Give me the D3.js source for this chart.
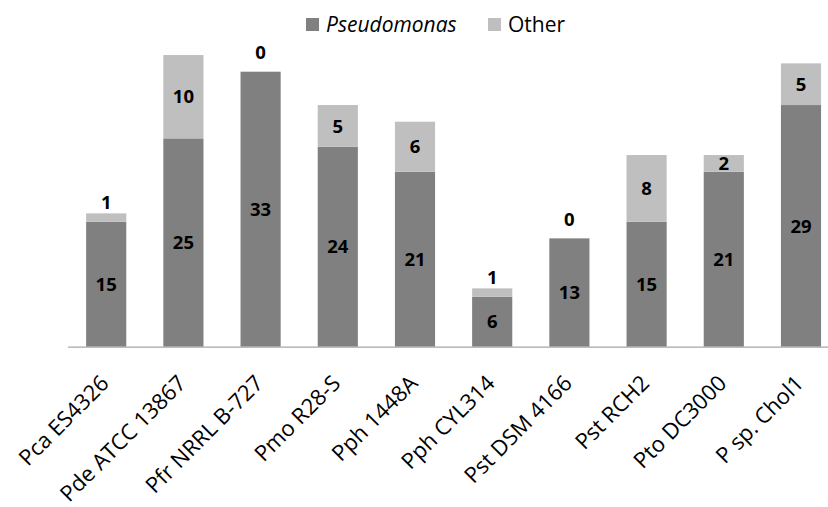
<!DOCTYPE html>
<html>
<head>
<meta charset="utf-8">
<script src="https://cdn.jsdelivr.net/npm/d3@7"></script>
<style>
  body { margin: 0; background: #fff; }
  svg { display: block; font-family: "Open Sans", Lato, sans-serif; }
</style>
</head>
<body>
<div id="chart"></div>
<script>
// 数据
const strains = ['Pca ES4326', 'Pde ATCC 13867', 'Pfr NRRL B-727', 'Pmo R28-S', 'Pph 1448A',
                 'Pph CYL314', 'Pst DSM 4166', 'Pst RCH2', 'Pto DC3000', 'P sp. Chol1'];
const pseudomonas = [15, 25, 33, 24, 21, 6, 13, 15, 21, 29];
const other = [1, 10, 0, 5, 6, 1, 0, 8, 2, 5];
const seriesNames = ['Pseudomonas', 'Other'];
const colors = ['#808080', '#bfbfbf'];

const width = 828, height = 507;

const svg = d3.select('#chart').append('svg')
    .attr('width', width)
    .attr('height', height);

// 比例尺
const xScale = d3.scaleBand()
    .domain(strains)
    .range([67.6, 839.6])
    .paddingInner(0.48)
    .paddingOuter(0.24);

const yScale = d3.scaleLinear()
    .domain([0, 33])
    .range([346.7, 71.7]);

const rows = strains.map((s, i) => ({ strain: s, Pseudomonas: pseudomonas[i], Other: other[i] }));
const stacked = d3.stack().keys(seriesNames)(rows);

// 柱子
const layers = svg.selectAll('.layer')
    .data(stacked)
    .enter().append('g')
    .attr('class', 'layer')
    .attr('fill', (d, i) => colors[i]);

layers.selectAll('rect')
    .data(d => d)
    .enter().append('rect')
    .attr('x', d => xScale(d.data.strain))
    .attr('width', xScale.bandwidth())
    .attr('y', d => yScale(d[1]))
    .attr('height', d => yScale(d[0]) - yScale(d[1]));

// 数据标签（很小的 Other 值放在柱顶上方）
layers.selectAll('text')
    .data(d => d.map(v => Object.assign({ key: d.key }, v)))
    .enter().append('text')
    .attr('x', d => xScale(d.data.strain) + xScale.bandwidth() / 2)
    .attr('y', d => {
        const val = d[1] - d[0];
        if (d.key === 'Other' && val <= 1) return yScale(d[1]) - (val === 0 ? 19 : 11);
        return (yScale(d[0]) + yScale(d[1])) / 2;
    })
    .attr('dy', '0.36em')
    .attr('text-anchor', 'middle')
    .style('font-size', '18.5px')
    .style('font-weight', 'bold')
    .style('fill', '#000')
    .text(d => d[1] - d[0]);

// x 轴
const xAxis = svg.append('g')
    .attr('transform', 'translate(0,346.7)')
    .call(d3.axisBottom(xScale).tickSize(0).tickSizeOuter(0));

xAxis.select('.domain')
    .attr('stroke', '#a6a6a6')
    .attr('stroke-width', 1.3);

xAxis.selectAll('text')
    .attr('text-anchor', 'end')
    .attr('dy', 0)
    .attr('y', 0)
    .attr('transform', 'translate(4,38) rotate(-45)')
    .style('font-size', '22px')
    .style('font-family', '"Open Sans", sans-serif')
    .style('fill', '#000');

// 图例
const legendItems = [
    { name: 'Pseudomonas', color: colors[0], x: 306, italic: true },
    { name: 'Other', color: colors[1], x: 488, italic: false }
];
const legend = svg.append('g');
legendItems.forEach(it => {
    legend.append('rect')
        .attr('x', it.x).attr('y', 18)
        .attr('width', 13).attr('height', 13)
        .attr('fill', it.color);
    legend.append('text')
        .attr('x', it.x + 20).attr('y', 24.5)
        .attr('dy', '0.36em')
        .style('font-size', '21px')
        .style('font-style', it.italic ? 'italic' : 'normal')
        .text(it.name);
});
</script>
</body>
</html>
